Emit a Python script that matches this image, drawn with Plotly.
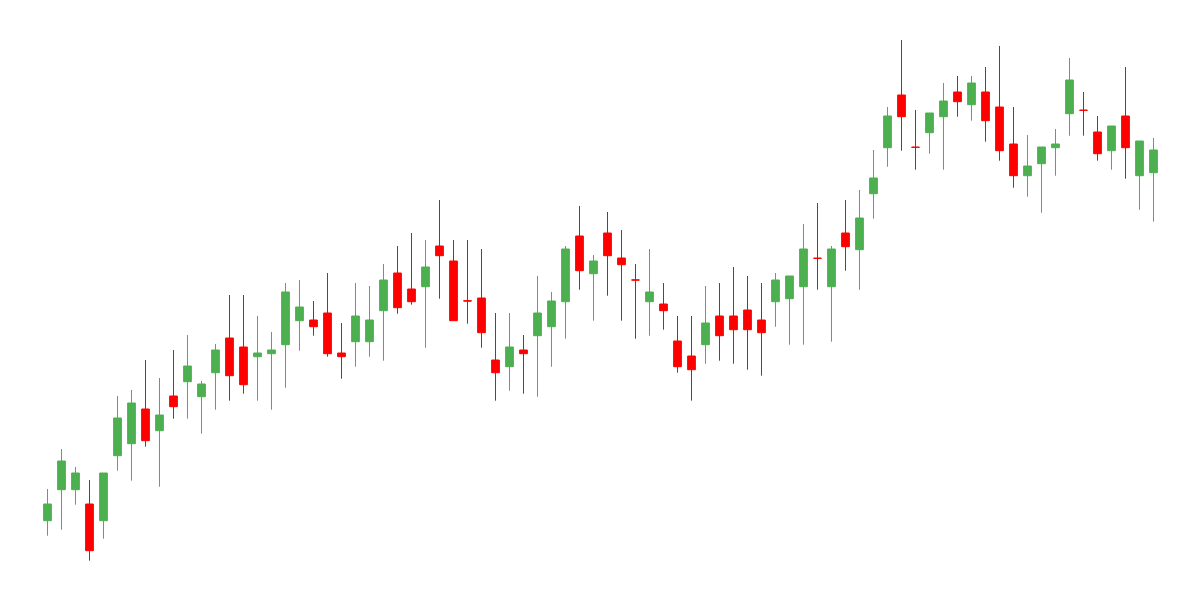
import plotly.graph_objects as go

# one candle per session, index 0..79
sessions = list(range(80))

open_ = [79.3, 110.3, 110.3, 96, 79.3, 144.3, 156.3, 191, 169.3, 204,
         218.3, 203.3, 227.3, 262, 253, 243.3, 246.3, 255.3, 279.3, 280,
         287, 247, 258.3, 258.3, 289.3, 327, 311, 313.3, 354, 339,
         299.3, 302, 240, 233.3, 250, 264.3, 273.3, 298.3, 364, 326.3,
         367, 342, 320, 298.3, 296, 259, 244, 255.3, 284, 284,
         290, 280, 298.3, 301.3, 313.3, 341.7, 313.3, 367, 350.3, 406.3,
         452.3, 505, 452.7, 467.3, 483.3, 508, 495.3, 508, 493, 456,
         424.3, 436.3, 452.3, 486.3, 489.7, 468, 449.3, 484, 424.3, 427.3]
high = [111, 151, 133, 120, 127, 204, 210, 240, 222, 250,
        265, 219, 256, 305, 305, 284, 268, 317, 320, 299,
        327, 277, 317, 314, 336, 354, 367, 360, 400, 360,
        360, 351, 287, 287, 265, 324, 308, 354, 394, 345,
        388, 370, 336, 351, 317, 284, 284, 314, 317, 333,
        324, 317, 327, 324, 376, 397, 354, 400, 410, 450,
        493, 560, 490, 487, 517, 524, 524, 533, 554, 493,
        465, 453, 471, 542, 508, 484, 474, 533, 459, 462]
low = [64.3, 70.3, 95.3, 39.3, 61.3, 129.3, 119.3, 153.3, 113.3, 181.3,
       181.3, 166.3, 190.3, 199.3, 206.3, 199.3, 190.3, 212.3, 249.3, 264.3,
       243.3, 221.3, 233.3, 243.3, 239.3, 286.3, 295.3, 252.3, 301.3, 279.3,
       276.3, 252.3, 199.3, 209.3, 206.3, 203.3, 233.3, 261.3, 310.3, 279.3,
       304.3, 279.3, 261.3, 264.3, 270.3, 227.3, 199.3, 236.3, 239.3, 236.3,
       230.3, 224.3, 273.3, 255.3, 255.3, 310.3, 258.3, 329.3, 310.3, 381.3,
       433.3, 449.3, 430.3, 446.3, 430.3, 483.3, 479.3, 458.3, 439.3, 412.3,
       403.3, 387.3, 424.3, 464.3, 464.3, 439.3, 430.3, 421.3, 390.3, 378.3]
close = [96, 139, 127, 49.3, 127, 182, 197, 159.3, 185, 193.3,
         234, 216, 250, 224.3, 215.3, 247, 250, 308, 293, 273.3,
         246.3, 243.3, 284, 280, 320, 292.3, 298.3, 333, 344.3, 279.3,
         299, 267.3, 227.3, 253, 246.3, 287, 299, 351, 329.3, 339,
         344.3, 335.3, 320, 308, 289.3, 233.3, 230.3, 277, 264.3, 270.3,
         270.3, 267.3, 320, 324, 351, 341.7, 351, 353.3, 382, 422,
         484, 483.3, 452.7, 487, 499, 498.3, 517, 479.3, 449.3, 424.3,
         434, 453, 456, 520, 489.7, 446.3, 474, 452.3, 459, 450]

fig = go.Figure(go.Candlestick(
    x=sessions,
    open=open_,
    high=high,
    low=low,
    close=close,
    increasing=dict(line=dict(color="#4CAF50", width=1), fillcolor="#4CAF50"),
    decreasing=dict(line=dict(color="#FF0000", width=1), fillcolor="#FF0000"),
    whiskerwidth=0,
    hoverinfo="x+y",
))

# the page body adds an 8px margin, so the figure is 8px smaller each way
W, H = 1192, 592
x0 = -39.5 / 14

fig.update_layout(
    width=W,
    height=H,
    margin=dict(l=0, r=0, t=0, b=0),
    paper_bgcolor="white",
    plot_bgcolor="white",
    showlegend=False,
    boxgap=0.21,
    xaxis=dict(range=[x0, x0 + W / 14], visible=False,
               rangeslider=dict(visible=False)),
    yaxis=dict(range=[0, H], visible=False),
)

fig.write_html("out.html")
